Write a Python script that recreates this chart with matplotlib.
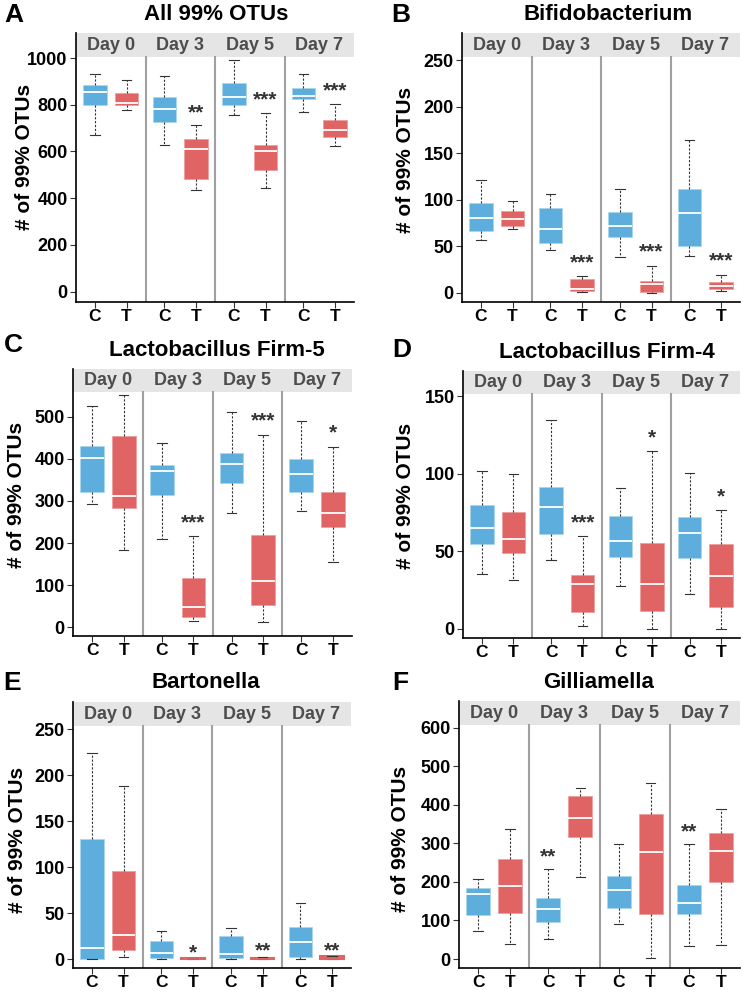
import numpy as np
import matplotlib.pyplot as plt

plt.rcParams['font.family'] = ['Liberation Sans', 'DejaVu Sans']

days = ['Day 0', 'Day 3', 'Day 5', 'Day 7']
groups = ['C', 'T']

# box stats per box, order C/T for Day 0, 3, 5, 7: [low whisker, q1, median, q3, high whisker]
all_otus = [[670, 797, 853, 886, 931], [776, 800, 807, 850, 906],
            [626, 726, 780, 833, 923], [436, 481, 611, 653, 714],
            [754, 799, 833, 893, 991], [443, 521, 604, 626, 763],
            [769, 823, 836, 870, 931], [623, 663, 691, 733, 803]]
bifido = [[57, 66, 80.6, 97, 121], [69, 72, 79.5, 87.4, 99],
          [46.4, 54, 68.7, 91, 106], [1, 1.8, 4.3, 15, 18],
          [38, 60, 72.3, 86.7, 112], [0, 0.7, 9, 12.6, 29],
          [40, 50.4, 86.3, 112, 164], [2.2, 4, 7.2, 11.2, 19.4]]
firm5 = [[292, 321, 402, 431, 525], [183, 282, 311, 454, 552],
         [209, 314, 370, 385, 437], [14, 24, 49, 117, 216],
         [272, 342, 387, 414, 511], [13, 52, 111, 219, 457],
         [277, 322, 365, 399, 489], [155, 239, 272, 322, 429]]
firm4 = [[35.5, 54.7, 65.2, 79.6, 101.6], [31.6, 48.6, 57.9, 75.5, 99.6],
         [44.5, 60.9, 78.8, 91.7, 134.9], [1.7, 10.8, 28.8, 34.6, 59.6],
         [27.5, 46.3, 56.8, 72.5, 90.6], [0, 11.2, 28.8, 55.3, 114.5],
         [22.6, 45.6, 61.8, 72.1, 100.7], [0, 13.8, 33.8, 54.4, 76.8]]
barton = [[0, 0, 12.3, 130.6, 224], [1.8, 10.1, 26.3, 96, 188.7],
          [0, 0.7, 6.5, 19.5, 30], [0, 0, 0, 1, 1],
          [0, 0.7, 5.4, 25.6, 33.9], [0, 0, 0.5, 1.5, 1.8],
          [0, 2.5, 19.1, 34.6, 61.3], [0, 0, 0.5, 3, 3]]
gilli = [[72, 115, 168, 183, 207], [38, 120, 189, 260, 336],
         [53, 96, 130, 159, 234], [212, 316, 366, 424, 444],
         [92, 132, 180, 216, 298], [4, 117, 277, 377, 456],
         [33, 118, 146, 191, 297], [36, 200, 279, 326, 388]]

# significance marks: (box index, label, y value)
all_otus_sig = [(3, '**', 767), (5, '***', 821), (7, '***', 861)]
bifido_sig = [(3, '***', 32), (5, '***', 44), (7, '***', 34)]
firm5_sig = [(3, '***', 247), (5, '***', 489), (7, '*', 461)]
firm4_sig = [(3, '***', 68), (5, '*', 123), (7, '*', 85)]
barton_sig = [(3, '*', 7), (5, '**', 9), (7, '**', 9)]
gilli_sig = [(2, '**', 266), (6, '**', 330)]

titles = ['All 99% OTUs', 'Bifidobacterium', 'Lactobacillus Firm-5',
          'Lactobacillus Firm-4', 'Bartonella', 'Gilliamella']
letters = ['A', 'B', 'C', 'D', 'E', 'F']
panel_data = [all_otus, bifido, firm5, firm4, barton, gilli]
panel_sig = [all_otus_sig, bifido_sig, firm5_sig, firm4_sig, barton_sig, gilli_sig]
yticks = [np.arange(0, 1001, 200), np.arange(0, 251, 50), np.arange(0, 501, 100),
          np.arange(0, 151, 50), np.arange(0, 251, 50), np.arange(0, 601, 100)]

# layout in pixels: left, right, top, bottom ; ylim bottom, strip bottom, ylim top
W, H = 743, 992
boxes_px = [(76, 354, 33, 302), (462, 740, 33, 302),
            (73, 352, 369, 636), (463, 740, 371, 638),
            (73, 351, 702, 968), (459, 740, 701, 968)]
ylims = [(-44, 1004, 1107), (-10, 253.6, 279.5), (-20.6, 558, 613),
         (-6, 151.3, 166.3), (-9.7, 253.2, 279.6), (-23.2, 606, 669)]
title_px = [(216, 15), (608, 15), (217, 351), (607, 352), (206, 683), (599, 683)]
letter_px = [(4, 15), (391, 15), (4, 345), (392, 350), (3, 683), (392, 683)]
ylabel_px = [(25, 157), (406, 160), (17, 495), (406, 496), (18, 840), (400, 839)]

blue, red = '#5DAEDC', '#E06464'
blue_edge, red_edge = '#A9D5EE', '#EE9E9E'

fig = plt.figure(figsize=(W / 100, H / 100), dpi=100)

for k in range(6):
    l, r, t, b = boxes_px[k]
    ax = fig.add_axes([l / W, 1 - b / H, (r - l) / W, (b - t) / H])
    y0, ys, y1 = ylims[k]
    data = panel_data[k]
    stats = []
    for d in data:
        stats.append(dict(whislo=d[0], q1=d[1], med=d[2], q3=d[3], whishi=d[4]))
    pos = []
    for i in range(4):
        pos += [1 + 2.2 * i, 2 + 2.2 * i]
    bp = ax.bxp(stats, positions=pos, widths=0.75, patch_artist=True,
                showfliers=False, capwidths=0.3,
                boxprops=dict(linewidth=0.6),
                medianprops=dict(color='white', linewidth=1.3),
                whiskerprops=dict(color='#333333', linewidth=0.8, linestyle=(0, (2, 1.5))),
                capprops=dict(color='#333333', linewidth=0.8))
    for j, patch in enumerate(bp['boxes']):
        fc = blue if j % 2 == 0 else red
        patch.set_facecolor(fc)
        patch.set_edgecolor(blue_edge if j % 2 == 0 else red_edge)
        # very flat boxes show as a solid coloured bar
        if data[j][3] - data[j][1] < 0.015 * (y1 - y0):
            patch.set_edgecolor(fc)
            patch.set_linewidth(1.5)
            bp['medians'][j].set_color(fc)
        bp['medians'][j].set_zorder(3)

    ax.set_xlim(0.4, 9.2)
    ax.set_ylim(y0, y1)
    # strip on top
    ax.axhspan(ys, y1, color='#E5E5E5', zorder=0, lw=0)
    for i in range(4):
        ax.text(1.5 + 2.2 * i, (ys + y1) / 2, days[i], ha='center', va='center',
                fontsize=13, fontweight='bold', color='#4D4D4D')
    for i in range(3):
        ax.plot([2.6 + 2.2 * i] * 2, [y0, ys], color='#A0A0A0', lw=1.5, zorder=1)

    for idx, lab, yv in panel_sig[k]:
        ax.text(pos[idx], yv, lab, ha='center', va='center', fontsize=15,
                fontweight='bold', color='#333333')

    ax.set_xticks(pos)
    ax.set_xticklabels(groups * 4, fontsize=12.5, fontweight='bold')
    ax.set_yticks(yticks[k])
    ax.set_yticklabels([str(v) for v in yticks[k]], fontsize=13, fontweight='bold')
    ax.tick_params(axis='both', length=4, width=0.8, color='#333333', pad=2)
    ax.tick_params(axis='x', pad=1)
    ax.spines['top'].set_visible(False)
    ax.spines['right'].set_visible(False)
    ax.spines['left'].set_linewidth(1.2)
    ax.spines['bottom'].set_linewidth(1.2)
    ax.set_facecolor('white')

    tx, ty = title_px[k]
    fig.text(tx / W, 1 - ty / H, titles[k], ha='center', va='center',
             fontsize=16, fontweight='bold')
    lx, ly = letter_px[k]
    fig.text(lx / W, 1 - ly / H, letters[k], ha='left', va='center',
             fontsize=19, fontweight='bold')
    yx, yy = ylabel_px[k]
    fig.text(yx / W, 1 - yy / H, '# of 99% OTUs', ha='center', va='center',
             rotation=90, fontsize=15, fontweight='bold')

fig.savefig('out.png', dpi=100)
